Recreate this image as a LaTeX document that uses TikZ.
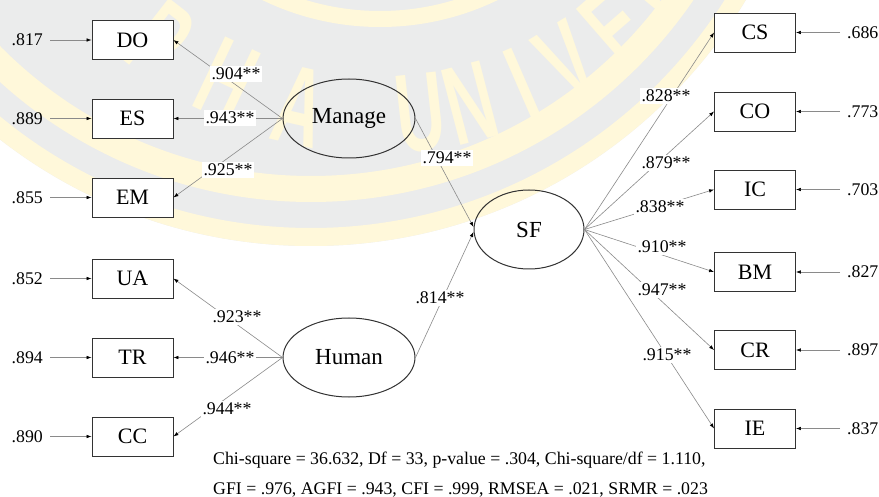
\documentclass[tikz,border=0pt]{standalone}
\usepackage{fontspec}
\setmainfont{Liberation Serif}
\newfontfamily\wmfont{Liberation Sans}
\usetikzlibrary{arrows.meta,shapes.geometric}
\definecolor{wmgrey}{HTML}{EBECEC}
\definecolor{wmgold}{HTML}{FFF8DA}
\definecolor{linegrey}{HTML}{8A8A8A}
\definecolor{edgecol}{HTML}{333333}

\begin{document}
\begin{tikzpicture}[x=1pt,y=-1pt,
  obs/.style={draw=edgecol, line width=0.9pt, fill=white, minimum width=81pt,
    minimum height=39pt, inner sep=0pt, font=\fontsize{22}{22}\selectfont},
  lat/.style={draw=edgecol, line width=1pt, ellipse, inner sep=0pt,
    minimum height=79pt, font=\fontsize{23}{23}\selectfont},
  num/.style={font=\fontsize{17.8}{17.8}\selectfont, inner sep=0pt},
  coef/.style={num, fill=white, inner xsep=1.5pt, inner ysep=2pt},
  link/.style={draw=linegrey, line width=0.6pt,
    -{Latex[length=5pt,width=3.6pt,color=black]}},
  errlink/.style={link, shorten <=7pt},
  wmletter/.style={text=wmgold, inner sep=0pt,
    font=\wmfont\bfseries\fontsize{112}{112}\selectfont}]

\useasboundingbox (0,0) rectangle (879,497);
\fill[white] (0,0) rectangle (879,497);

% faint seal in the background
\begin{scope}
  \clip (0,0) rectangle (879,497);
  \fill[wmgrey] (311,-261) circle[radius=507];
  \draw[wmgold, line width=18pt] (311,-261) circle[radius=498];
  \draw[wmgold, line width=26pt] (311,-261) circle[radius=450];
  \draw[wmgold, line width=16pt] (380,-243) circle[radius=262];
  \foreach \l/\a in {P/-37.9, H/-25.4, A/-12.9, U/6.4, N/14.6, I/23.5,
                     V/31.5, E/41, R/50.5, S/59}
    \node[wmletter, rotate=\a, xscale=0.6] (wm-\l)
      at ({380+358*sin(\a)},{-243+358*cos(\a)}) {\l};
\end{scope}

% latent variables
\node[lat, minimum width=132pt] (Manage) at (349,118.5) {Manage};
\node[lat, minimum width=132pt] (Human)  at (349,357.5) {Human};
\node[lat, minimum width=110pt] (SF)     at (529,229.5) {SF};

% indicators of Manage and Human
\node[obs] (DO) at (132.5,40)    {DO};
\node[obs] (ES) at (132.5,118.5) {ES};
\node[obs] (EM) at (132.5,197.5) {EM};
\node[obs] (UA) at (132.5,278.5) {UA};
\node[obs] (TR) at (132.5,357.5) {TR};
\node[obs] (CC) at (132.5,436.5) {CC};

% indicators of SF
\node[obs] (CS) at (755,32.5)  {CS};
\node[obs] (CO) at (755,111.5) {CO};
\node[obs] (IC) at (755,189.5) {IC};
\node[obs] (BM) at (755,272)   {BM};
\node[obs] (CR) at (755,350)   {CR};
\node[obs] (IE) at (755,428.5) {IE};

% error terms
\foreach \b/\v in {DO/.817, ES/.889, EM/.855, UA/.852, TR/.894, CC/.890}
  \node[num, anchor=east] (e\b) at (43,0 |- \b) {\v};
\foreach \b/\v in {CS/.686, CO/.773, IC/.703, BM/.827, CR/.897, IE/.837}
  \node[num, anchor=west] (e\b) at (847,0 |- \b) {\v};
\foreach \b in {DO,ES,EM,UA,TR,CC,CS,CO,IC,BM,CR,IE}
  \draw[errlink] (e\b) -- (\b);

% loadings and structural paths
\foreach \b in {DO,ES,EM} \draw[link] (Manage.west) -- (\b.east);
\foreach \b in {UA,TR,CC} \draw[link] (Human.west) -- (\b.east);
\foreach \b in {CS,CO,IC,BM,CR,IE} \draw[link] (SF.east) -- (\b.west);
\draw[link] (Manage.east) -- ([yshift=2.5pt]SF.west);
\draw[link] (Human.east) -- ([yshift=-2.5pt]SF.west);

% coefficients
\node[coef] (cDO) at (236,74)  {.904**};
\node[coef] (cES) at (230,118) {.943**};
\node[coef] (cEM) at (228,170) {.925**};
\node[coef] (cUA) at (237,317) {.923**};
\node[coef] (cTR) at (230,358) {.946**};
\node[coef] (cCC) at (227,409) {.944**};
\node[coef] (cM)  at (447,158) {.794**};
\node[coef] (cH)  at (440,298) {.814**};
\node[coef] (cCS) at (666,96)  {.828**};
\node[coef] (cCO) at (666,163) {.879**};
\node[coef] (cIC) at (660,207) {.838**};
\node[coef] (cBM) at (662,247) {.910**};
\node[coef] (cCR) at (662,290) {.947**};
\node[coef] (cIE) at (667,355) {.915**};

% model fit
\node[num, anchor=base west] (fit1) at (213,464)
  {Chi-square = 36.632, Df = 33, p-value = .304, Chi-square/df = 1.110,};
\node[num, anchor=base west] (fit2) at (213,494)
  {GFI = .976, AGFI = .943, CFI = .999, RMSEA = .021, SRMR = .023};
\end{tikzpicture}
\end{document}
